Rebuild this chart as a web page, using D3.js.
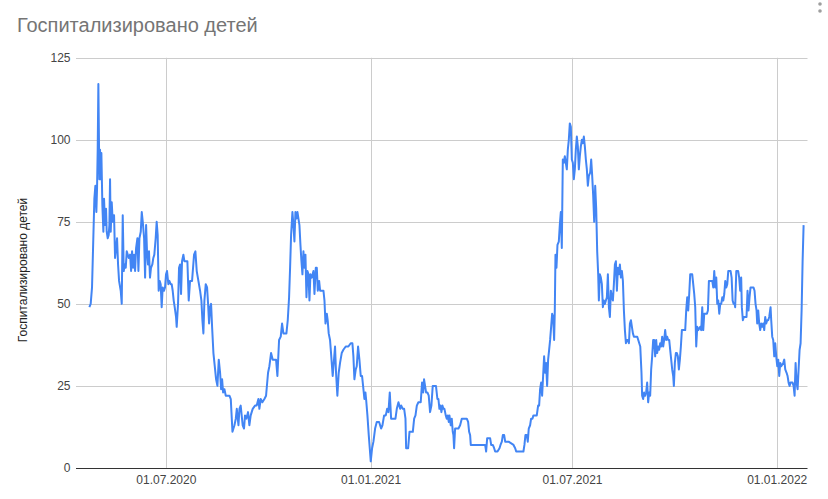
<!DOCTYPE html>
<html>
<head>
<meta charset="utf-8">
<script src="https://cdn.jsdelivr.net/npm/d3@7"></script>
<style>
  html, body { margin: 0; padding: 0; background: #fff; }
  svg { display: block; font-family: "Liberation Sans", Arial, sans-serif; }
</style>
</head>
<body>
<svg id="chart" width="828" height="499"></svg>
<script>
// ---- Data ----
const chartTitle = "Госпитализировано детей";
const yAxisTitle = "Госпитализировано детей";
const baseDate = "2020-07-01"; // day offsets below are counted from this date

const dayOffsets = [
  -69.2,-68,-66.8,-64.7,-63.8,-62.9,-62.3,-61.7,-61.1,-60.2,-59.6,-59,-58.4,-57.5,-56.6,-56,-55.1,-54.2,-53.6,-52.7,
  -51.8,-51.2,-50.6,-50,-49.1,-48.2,-47,-46.1,-45.2,-44.3,-43.4,-42.5,-41,-40.1,-39.2,-38.3,-37.4,-36.5,-35.6,-34.7,
  -33.8,-32.6,-31.7,-30.8,-29.9,-29,-28.1,-27.2,-26,-25.1,-24.2,-23,-22.1,-21.2,-20,-19.1,-18.2,-17.4,-16.5,-15.6,
  -14.7,-13.8,-12.6,-11.7,-10.8,-9.6,-8.7,-7.8,-6.9,-6,-5.1,-4.2,-3.3,-2.1,-1.2,-0.3,0.6,1.8,2.7,3.9,
  4.8,5.7,6.6,7.5,8.7,9.3,10.5,11.4,
  12.3,13.2,14.1,15.3,16.2,17.4,18.9,20.1,21.3,23.1,24.9,26.1,27.3,28.8,30.3,31.5,32.4,33.3,34.2,35.4,
  36.6,37.5,38.4,39.3,40.2,41.1,42.3,43.5,44.7,45.9,47.1,48.3,49.2,50.1,51,52.2,53.4,54.9,56.7,57.9,
  58.5,59.4,60.3,61.2,62.4,63.3,64.8,65.7,66.8,68.6,69.8,70.7,71.9,73.4,74.6,75.8,77.6,79.7,81.2,82.7,
  83.6,84.8,86.3,88.1,89.6,91.4,92.6,94.1,95.6,97.1,98.6,99.8,101.3,102.8,104,105.2,106.7,107.9,
  109.1,110.3,111.2,112.1,113.3,114.2,115.1,116,116.9,117.8,118.7,119.6,120.5,121.4,122.3,123.2,124.1,125,125.9,126.8,
  127.7,128.6,129.5,130.7,132.2,133.1,134.3,135.2,136.1,137.3,138.2,139.7,141.2,142.1,143,144.2,145,145.9,147.1,148,
  149.5,151.6,152.5,153.7,154.9,156.1,157.6,159.1,161.2,163.6,165.7,167.2,168.1,169,170.2,171.1,172.3,173.5,174.7,175.9,
  176.8,178,178.9,179.5,180.7,181.9,183.7,184.9,186.1,187.6,189.1,191.2,193,194.2,195.7,197.2,198.4,199.6,200.8,202,
  204.1,205.9,207.1,208.6,210.1,
  211,212.5,213.7,214.9,215.5,217.3,218.5,219.7,221.5,222.7,223.9,225.1,226.5,228.6,229.8,230.8,231.6,232.5,233.4,234.6,
  235.8,237,238.2,239.4,241.2,242.3,243.6,244.5,245.4,246.3,247.2,248.1,249,249.9,251.1,252,252.9,253.8,254.4,255.6,
  256.5,257.4,258,258.6,259.5,262.5,264,265.5,267,270,271.2,272.1,273,273.6,279,286.5,287.4,288.3,289.5,291,
  291.9,293.4,294.6,295.5,297.6,299.4,300.3,301.5,302.4,303.6,304.5,307.5,312,313.5,314.4,320.9,321.8,322.7,323.9,324.8,
  325.7,326.9,327.8,329,
  329.9,331.1,332.9,334.1,335,335.9,336.8,337.7,338.6,339.5,340.4,341.3,342.2,343.1,344,344.9,345.8,346.7,347.6,348.5,
  349.1,349.7,350.6,351.5,352.7,353.6,354.5,355.4,356.3,357.2,358.1,359,359.9,360.8,361.7,362.6,363.5,364.4,365.3,366.2,
  367.1,368,368.9,369.8,370.7,371.6,372.5,373.4,374.3,375.2,376.1,377,377.9,378.8,379.7,380.9,381.8,382.7,383.6,384.5,
  385.4,386.3,387.2,388.1,388.7,389.6,390.5,391.4,392.3,393.2,394.1,395,395.9,396.8,397.7,398.6,399.5,400.4,401.3,402.2,
  403.1,404,404.9,405.8,406.7,407.6,408.5,409.4,410.3,411.2,412.1,413,413.9,414.8,415.7,416.6,417.5,418.4,419.3,420.2,
  422.3,423.2,424.1,425,425.9,
  427,427.6,428.5,429.4,430.3,431.2,432.1,433,433.9,434.8,435.7,436.6,437.5,438.4,439.3,440.2,441.1,442,442.9,443.8,
  444.7,445.6,446.5,447.4,448.3,449.2,450.1,451,451.9,452.8,453.7,454.6,455.5,456.1,457,457.9,458.8,459.7,460.6,461.5,
  462.4,463.3,464.8,466.3,467.2,468.1,469,469.9,470.8,472.6,473.5,474.4,475.3,476.2,477.1,478,479.8,480.7,481.6,482.5,
  483.4,485.8,486.7,487.6,490.6,491.5,492.4,493.3,494.2,495.1,496,496.9,497.8,498.7,499.6,500.5,501.4,502.3,503.2,504.1,
  505,507.1,508,508.9,509.8,510.7,
  511.2,512.2,513,513.9,514.8,515.7,516.6,517.2,518.1,519,520.2,521.4,522.3,523.2,524.1,525,525.9,527.7,528.6,529.5,
  530.4,531,531.9,532.8,533.7,534.6,535.5,536.4,537.3,538.2,539.1,540,540.9,541.8,543,543.6,544.5,545.4,546.3,547.2,
  548.1,549,549.9,550.8,551.7,552.6,554.4,555.3,556.2,557.4,558.3,559.2,560.1,561,562.8,563.7,564.6,565.5,566.4,567.3,
  568.2,569.1,570,570.9,571.8,572.7
];

const hospitalized = [
  49,50,55,82,86,78,85,97,117,88,97,88,96,80,72,82,74,79,72,70,
  71,74,88,72,81,75,77,64,67,70,62,57,54,50,77,60,62,61,66,65,
  64,65,60,66,61,65,60,67,70,60,70,72,78,75,70,58,74,66,62,66,
  58,61,62,64,65,70,75,71,54,57,56,49,55,54,55,59,60,56,57,56,
  56,54,51,49,46,43,50,61,
  62,53,63,65,63,63,63,51,57,57,65,66,60,57,54,51,45,41,51,56,
  55,50,44,49,50,43,35,31,27,25,33,29,24,27,23,24,22,22,22,21,
  17,11,12,13,15,18,13,18,19,13,12,16,15,17,13,16,18,19,19,21,
  18,21,20,21,22,29,31,35,33,33,33,28,39,40,44,41,41,41,
  45,52,61,71,78,74,69,78,76,78,76,74,68,63,59,66,61,65,52,60,
  59,51,59,58,60,53,61,61,54,57,54,54,54,51,44,47,45,41,39,35,
  28,37,29,22,29,32,35,36,37,37,38,38,34,27,30,31,37,33,28,28,
  25,21,23,21,16,10,2,6,8,12,14,14,12,13,16,16,18,17,23,15,
  15,15,18,20,18,
  19,18,18,15,6,6,11,11,11,15,16,19,20,20,26,23,27,25,23,23,
  22,17,19,25,25,25,21,21,18,19,17,19,18,18,16,15,16,14,16,13,
  15,11,10,6,12,12,13,15,15,15,14,11,10,7,7,7,5,9,9,9,
  7,7,6,5,5,6,7,8,10,10,8,8,7,6,5,5,7,10,10,8,
  12,13,15,15,
  16,16,16,19,19,24,26,22,28,34,29,32,25,33,36,39,43,47,46,39,
  48,65,61,68,69,74,78,67,94,93,95,93,91,97,100,105,104,94,93,88,
  91,97,101,98,91,95,98,100,99,101,98,94,91,86,89,90,94,89,83,75,
  86,79,66,59,51,59,58,56,49,51,50,51,52,59,49,46,54,52,51,56,
  62,63,54,61,59,62,58,60,57,48,42,38,39,39,38,44,45,43,41,40,
  40,40,39,38,37,
  29,22,21,23,22,23,26,20,23,22,30,34,39,39,34,39,35,37,36,38,
  37,40,37,39,42,39,40,39,39,36,33,30,28,25,32,35,35,34,30,33,
  37,42,42,42,48,52,48,53,59,59,56,53,49,37,43,42,43,42,49,42,
  47,47,48,57,57,55,60,55,58,50,51,47,50,50,52,51,53,57,55,56,
  60,60,58,51,50,50,
  49,60,60,60,58,54,58,49,45,46,46,46,54,48,52,55,55,55,54,50,
  48,44,48,44,42,44,43,44,42,46,44,45,45,46,49,45,40,39,34,38,
  34,31,33,28,32,31,32,33,30,29,28,26,25,26,26,25,22,32,26,24,
  30,36,38,48,63,74
];

const yTicks = [0, 25, 50, 75, 100, 125];
const xTickDates = ["2020-07-01", "2021-01-01", "2021-07-01", "2022-01-01"];
const xTickLabels = ["01.07.2020", "01.01.2021", "01.07.2021", "01.01.2022"];

// ---- Build ----
(function () {
  const DAY = 864e5;
  const parse = d3.utcParse("%Y-%m-%d");
  const base = parse(baseDate);
  const toDate = d => new Date(base.getTime() + d * DAY);
  const series = dayOffsets.map((d, i) => ({ date: toDate(d), value: hospitalized[i] }));

  const svg = d3.select("#chart");
  const plotLeft = 76, plotRight = 807.5, plotTop = 57.8, plotBottom = 467.9;

  const x = d3.scaleUtc()
    .domain([toDate(-81.2), toDate(576.2)])
    .range([plotLeft, plotRight]);
  const y = d3.scaleLinear().domain([0, 125]).range([plotBottom, plotTop]);

  // title
  svg.append("text")
    .attr("x", 17).attr("y", 31.5)
    .attr("fill", "#757575")
    .style("font-size", "20px")
    .text(chartTitle);

  // three-dot menu (partially visible at top right)
  svg.append("g").attr("fill", "#9e9e9e")
    .selectAll("circle").data([-3, 4, 11]).join("circle")
    .attr("cx", 820).attr("cy", d => d).attr("r", 1.8);

  // horizontal gridlines
  svg.append("g")
    .selectAll("line").data(yTicks.filter(t => t > 0)).join("line")
    .attr("x1", plotLeft).attr("x2", plotRight)
    .attr("y1", d => Math.round(y(d)) + 0.5).attr("y2", d => Math.round(y(d)) + 0.5)
    .attr("stroke", "#cccccc").attr("stroke-width", 1);

  // vertical gridlines
  const xTicks = xTickDates.map(s => parse(s));
  svg.append("g")
    .selectAll("line").data(xTicks).join("line")
    .attr("x1", d => Math.round(x(d)) + 0.5).attr("x2", d => Math.round(x(d)) + 0.5)
    .attr("y1", plotTop).attr("y2", plotBottom)
    .attr("stroke", "#cccccc").attr("stroke-width", 1);

  // y tick labels
  svg.append("g")
    .selectAll("text").data(yTicks).join("text")
    .attr("x", 70.5).attr("y", d => y(d))
    .attr("dy", "0.35em")
    .attr("text-anchor", "end")
    .attr("fill", "#444444")
    .style("font-size", "12px")
    .text(d => d3.format("d")(d));

  // x tick labels
  svg.append("g")
    .selectAll("text").data(xTicks).join("text")
    .attr("x", d => x(d)).attr("y", 483.5)
    .attr("text-anchor", "middle")
    .attr("fill", "#444444")
    .style("font-size", "12px")
    .text((d, i) => xTickLabels[i]);

  // y axis title
  svg.append("text")
    .attr("transform", "translate(22.5,270) rotate(-90)")
    .attr("text-anchor", "middle")
    .attr("dy", "0.35em")
    .attr("fill", "#222222")
    .style("font-size", "12px")
    .text(yAxisTitle);

  // data line
  const line = d3.line()
    .x(d => x(d.date))
    .y(d => y(d.value));

  svg.append("path")
    .datum(series)
    .attr("fill", "none")
    .attr("stroke", "#4285f4")
    .attr("stroke-width", 2)
    .attr("stroke-linejoin", "round")
    .attr("d", line);

  // baseline
  svg.append("line")
    .attr("x1", plotLeft).attr("x2", plotRight)
    .attr("y1", Math.round(plotBottom) + 0.5).attr("y2", Math.round(plotBottom) + 0.5)
    .attr("stroke", "#333333").attr("stroke-width", 1);
})();
</script>
</body>
</html>
